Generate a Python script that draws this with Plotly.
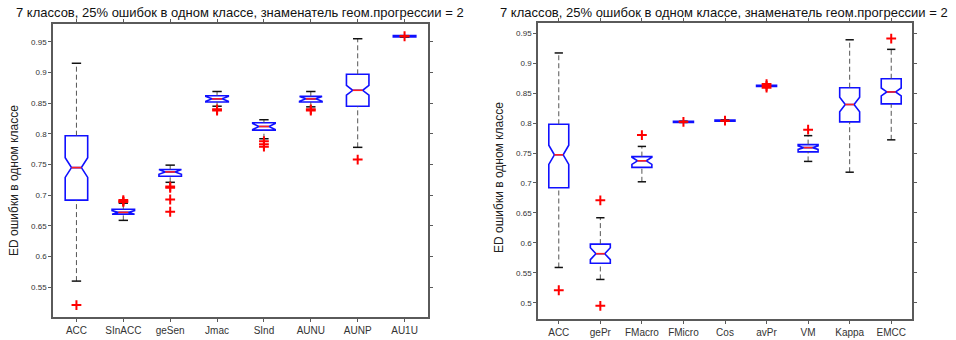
import plotly.graph_objects as go

# ---------------- data: left chart ----------------
cats_left = ["ACC", "SInACC", "geSen", "Jmac", "SInd", "AUNU", "AUNP", "AU1U"]
q1_left = [0.692, 0.669, 0.731, 0.852, 0.806, 0.852, 0.845, 0.958]
med_left = [0.745, 0.672, 0.738, 0.857, 0.812, 0.857, 0.871, 0.959]
q3_left = [0.797, 0.677, 0.742, 0.862, 0.818, 0.861, 0.897, 0.960]
lo_left = [0.560, 0.659, 0.721, 0.845, 0.792, 0.844, 0.778, 0.958]
hi_left = [0.915, 0.687, 0.749, 0.869, 0.823, 0.869, 0.955, 0.960]
notch_left = [0.016, 0.003, 0.004, 0.004, 0.005, 0.004, 0.008, 0.001]
out_left = [[0.521], [0.690, 0.692, 0.689], [0.714, 0.712, 0.693, 0.673],
            [0.840, 0.838], [0.788, 0.783, 0.779], [0.840, 0.838], [0.758], [0.959]]

# ---------------- data: right chart ----------------
cats_right = ["ACC", "gePr", "FMacro", "FMicro", "Cos", "avPr", "VM", "Kappa", "EMCC"]
q1_right = [0.692, 0.566, 0.726, 0.801, 0.803, 0.861, 0.752, 0.802, 0.832]
med_right = [0.747, 0.582, 0.737, 0.802, 0.804, 0.862, 0.759, 0.831, 0.852]
q3_right = [0.798, 0.598, 0.744, 0.803, 0.805, 0.863, 0.764, 0.859, 0.874]
lo_right = [0.559, 0.539, 0.702, 0.801, 0.803, 0.861, 0.736, 0.718, 0.772]
hi_right = [0.917, 0.642, 0.761, 0.803, 0.805, 0.863, 0.779, 0.939, 0.923]
notch_right = [0.016, 0.010, 0.006, 0.001, 0.001, 0.001, 0.003, 0.012, 0.0065]
out_right = [[0.521], [0.671, 0.495], [0.780], [0.802], [0.804],
             [0.862, 0.859, 0.865], [0.789], [], [0.941]]

title_text = "7 классов, 25% ошибок в одном классе, знаменатель геом.прогрессии = 2"
ylabel_text = "ED ошибки в одном классе"

FONT = "Liberation Sans, Arial, sans-serif"
BOX_W = 0.48
CAP_HW = 0.10
MED_HW = BOX_W * (1 - 2 * 0.28) / 2

fig = go.Figure()


def add_panel(cats, q1, med, q3, lo, hi, notch, outs, xa, ya):
    pos = list(range(1, len(cats) + 1))
    # whiskers (dashed)
    wx, wy = [], []
    for p, a, b, c, d in zip(pos, lo, q1, q3, hi):
        wx += [p, p, None, p, p, None]
        wy += [a, b, None, c, d, None]
    fig.add_trace(go.Scatter(x=wx, y=wy, mode="lines", xaxis=xa, yaxis=ya,
                             line=dict(color="#555555", width=1, dash="5px,3px"),
                             hoverinfo="skip", showlegend=False))
    # boxes
    spans = [min(n, max((c - a) / 2 * 0.95, 1e-5)) for n, a, c in zip(notch, q1, q3)]
    fig.add_trace(go.Box(x=pos, q1=q1, median=med, q3=q3, lowerfence=q1, upperfence=q3,
                         notched=True, notchspan=spans, notchwidth=0.28, width=BOX_W,
                         whiskerwidth=0, boxpoints=False, fillcolor="white",
                         line=dict(color="#1010ff", width=1.6), xaxis=xa, yaxis=ya,
                         showlegend=False))
    # caps
    cx, cy = [], []
    for p, a, d in zip(pos, lo, hi):
        cx += [p - CAP_HW, p + CAP_HW, None, p - CAP_HW, p + CAP_HW, None]
        cy += [a, a, None, d, d, None]
    fig.add_trace(go.Scatter(x=cx, y=cy, mode="lines", xaxis=xa, yaxis=ya,
                             line=dict(color="#111111", width=1.5),
                             hoverinfo="skip", showlegend=False))
    # medians
    mx, my = [], []
    for p, m in zip(pos, med):
        mx += [p - MED_HW, p + MED_HW, None]
        my += [m, m, None]
    fig.add_trace(go.Scatter(x=mx, y=my, mode="lines", xaxis=xa, yaxis=ya,
                             line=dict(color="#ff2020", width=1.6),
                             hoverinfo="skip", showlegend=False))
    # outliers
    ox, oy = [], []
    for p, o in zip(pos, outs):
        ox += [p] * len(o)
        oy += o
    fig.add_trace(go.Scatter(x=ox, y=oy, mode="markers", xaxis=xa, yaxis=ya,
                             marker=dict(symbol="cross-thin", size=7,
                                         line=dict(color="#ff0000", width=2)),
                             showlegend=False))
    return pos


pos_l = add_panel(cats_left, q1_left, med_left, q3_left, lo_left, hi_left,
                  notch_left, out_left, "x", "y")
pos_r = add_panel(cats_right, q1_right, med_right, q3_right, lo_right, hi_right,
                  notch_right, out_right, "x2", "y2")

W, H = 956, 340
axis_common = dict(showline=True, linecolor="#5a5a5a", linewidth=1.5, mirror="ticks",
                   ticks="outside", ticklen=3, tickcolor="#5a5a5a", showgrid=False,
                   zeroline=False)

fig.update_layout(
    width=W, height=H, margin=dict(l=0, r=0, t=0, b=0),
    paper_bgcolor="white", plot_bgcolor="white", showlegend=False,
    font=dict(family=FONT, color="#222222"),
    xaxis=dict(domain=[53 / W, 428 / W], range=[0.5, len(cats_left) + 0.5],
               tickvals=pos_l, ticktext=cats_left, anchor="y",
               tickfont=dict(size=10, color="#333333"), **axis_common),
    yaxis=dict(domain=[1 - 317 / H, 1 - 24 / H], range=[0.5015, 0.979],
               dtick=0.05, tick0=0.5, anchor="x",
               tickfont=dict(size=8, color="#333333"), **axis_common),
    xaxis2=dict(domain=[538 / W, 912 / W], range=[0.5, len(cats_right) + 0.5],
                tickvals=pos_r, ticktext=cats_right, anchor="y2",
                tickfont=dict(size=10, color="#333333"), **axis_common),
    yaxis2=dict(domain=[1 - 319 / H, 1 - 23 / H], range=[0.473, 0.967],
                dtick=0.05, tick0=0.5, anchor="x2",
                tickfont=dict(size=8, color="#333333"), **axis_common),
    annotations=[
        dict(text=title_text, x=240 / W, y=1 - 13 / H, xref="paper", yref="paper",
             xanchor="center", yanchor="middle",
             showarrow=False, font=dict(size=13, color="#111111")),
        dict(text=title_text, x=724 / W, y=1 - 13 / H, xref="paper", yref="paper",
             xanchor="center", yanchor="middle",
             showarrow=False, font=dict(size=13, color="#111111")),
        dict(text=ylabel_text, x=14 / W, y=1 - 181 / H, xref="paper", yref="paper",
             xanchor="center", yanchor="middle",
             showarrow=False, textangle=-90, font=dict(size=12, color="#222222")),
        dict(text=ylabel_text, x=499 / W, y=1 - 178 / H, xref="paper", yref="paper",
             xanchor="center", yanchor="middle",
             showarrow=False, textangle=-90, font=dict(size=12, color="#222222")),
    ],
)

fig.write_html("out.html", config={"displayModeBar": False},
               post_script="document.body.style.margin='0';document.body.style.padding='0';")
